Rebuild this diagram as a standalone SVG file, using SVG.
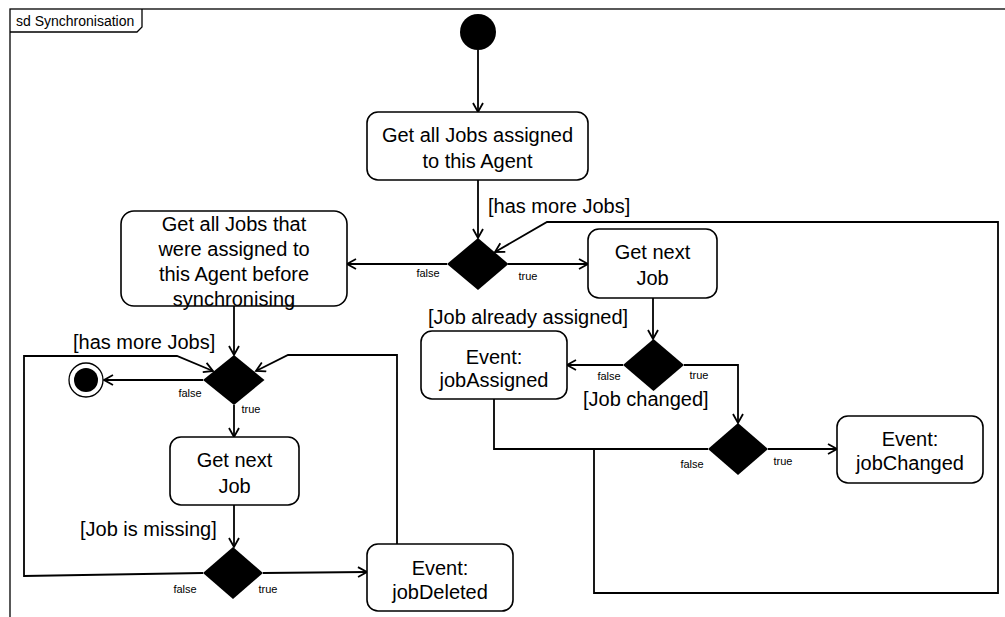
<svg xmlns="http://www.w3.org/2000/svg" width="1005" height="617" viewBox="0 0 1005 617">
<style>
  .frame{fill:none;stroke:#000;stroke-width:1.3}
  .node rect{fill:#fff;stroke:#000;stroke-width:1.6}
  .dec{fill:#000;stroke:none}
  .t{font-family:"Liberation Sans",Arial,sans-serif;font-size:20px;fill:#000}
  .c{text-anchor:middle}
  .s{font-family:"Liberation Sans",Arial,sans-serif;font-size:11px;fill:#000;text-anchor:middle}
  .conn path{fill:none;stroke:#000;stroke-width:1.8}
</style>
<defs>
  <marker id="arr" markerUnits="userSpaceOnUse" markerWidth="14" markerHeight="14" refX="10" refY="6" orient="auto">
    <path d="M1,1 L10,6 L1,11" fill="none" stroke="#000" stroke-width="1.8"/>
  </marker>
</defs>
<rect width="1005" height="617" fill="#fff"/>
<g id="frame">
  <rect class="frame" x="10" y="9" width="1000" height="620"/>
  <path class="frame" d="M10,32 H137 L142,27 V9" fill="#fff"/>
  <text x="16" y="26" font-family="'Liberation Sans',Arial,sans-serif" font-size="14px">sd Synchronisation</text>
</g>
<g id="connectors" class="conn">
  <path d="M478,50 V112" marker-end="url(#arr)"/>
  <path d="M478,180 V238" marker-end="url(#arr)"/>
  <path d="M447,264 H347" marker-end="url(#arr)"/>
  <path d="M508,264 H588" marker-end="url(#arr)"/>
  <path d="M653,298 V339" marker-end="url(#arr)"/>
  <path d="M623,365 H567" marker-end="url(#arr)"/>
  <path d="M684,365 H738 V423" marker-end="url(#arr)"/>
  <path d="M494,399 V449 H708"/>
  <path d="M768,449 H837" marker-end="url(#arr)"/>
  <path d="M594,449 V593 H998 V222 H547 L495,252" marker-end="url(#arr)"/>
  <path d="M234,306 V355" marker-end="url(#arr)"/>
  <path d="M203,380 H104" marker-end="url(#arr)"/>
  <path d="M234,405 V437" marker-end="url(#arr)"/>
  <path d="M234,505 V547" marker-end="url(#arr)"/>
  <path d="M203,573 L24,576 V356 H177 L213,371" marker-end="url(#arr)"/>
  <path d="M263,573 L367,572" marker-end="url(#arr)"/>
  <path d="M397,544 V355 H288 L256,371" marker-end="url(#arr)"/>
</g>
<g id="labels">
  <text class="t" x="488" y="213">[has more Jobs]</text>
  <text class="t" x="73" y="349">[has more Jobs]</text>
  <text class="t" x="428" y="324">[Job already assigned]</text>
  <text class="t" x="583" y="406">[Job changed]</text>
  <text class="t" x="80" y="536">[Job is missing]</text>
  <text class="s" x="428" y="277">false</text>
  <text class="s" x="528" y="280">true</text>
  <text class="s" x="190" y="397">false</text>
  <text class="s" x="251" y="413">true</text>
  <text class="s" x="609" y="380">false</text>
  <text class="s" x="699" y="379">true</text>
  <text class="s" x="692" y="468">false</text>
  <text class="s" x="783" y="465">true</text>
  <text class="s" x="185" y="593">false</text>
  <text class="s" x="268" y="593">true</text>
</g>
<g id="start"><circle cx="478" cy="32" r="18" fill="#000"/></g>
<g id="end">
  <circle cx="86" cy="380" r="17" fill="#fff" stroke="#000" stroke-width="1.3"/>
  <circle cx="86" cy="380" r="12" fill="#000"/>
</g>
<g id="getAllAssigned" class="node">
  <rect x="367" y="112" width="221" height="68" rx="11"/>
  <text class="t c" x="477.5" y="142">Get all Jobs assigned</text>
  <text class="t c" x="477.5" y="168">to this Agent</text>
</g>
<g id="dec1"><polygon class="dec" points="478,238 508.5,264 478,290 447,264"/></g>
<g id="getAllBefore" class="node">
  <rect x="121" y="211" width="226" height="95" rx="13"/>
  <text class="t c" x="234" y="231">Get all Jobs that</text>
  <text class="t c" x="234" y="256">were assigned to</text>
  <text class="t c" x="234" y="281">this Agent before</text>
  <text class="t c" x="234" y="306">synchronising</text>
</g>
<g id="getNextRight" class="node">
  <rect x="588" y="229" width="129" height="69" rx="11"/>
  <text class="t c" x="652.5" y="259">Get next</text>
  <text class="t c" x="652.5" y="285">Job</text>
</g>
<g id="dec3"><polygon class="dec" points="653.5,339 684,365 653.5,391 623,365"/></g>
<g id="jobAssigned" class="node">
  <rect x="421" y="331" width="146" height="68" rx="11"/>
  <text class="t c" x="494" y="364">Event:</text>
  <text class="t c" x="494" y="387">jobAssigned</text>
</g>
<g id="dec5"><polygon class="dec" points="738,423 768,449 738,475 708,449"/></g>
<g id="jobChanged" class="node">
  <rect x="837" y="416" width="146" height="67" rx="11"/>
  <text class="t c" x="910" y="446">Event:</text>
  <text class="t c" x="910" y="470">jobChanged</text>
</g>
<g id="dec2"><polygon class="dec" points="234,355 264.5,380 234,405 203,380"/></g>
<g id="getNextLeft" class="node">
  <rect x="170" y="437" width="129" height="68" rx="11"/>
  <text class="t c" x="234.5" y="467">Get next</text>
  <text class="t c" x="234.5" y="493">Job</text>
</g>
<g id="dec4"><polygon class="dec" points="233,547 263,573 233,599 203,573"/></g>
<g id="jobDeleted" class="node">
  <rect x="367" y="544" width="146" height="67" rx="11"/>
  <text class="t c" x="440" y="575">Event:</text>
  <text class="t c" x="440" y="599">jobDeleted</text>
</g>
</svg>
